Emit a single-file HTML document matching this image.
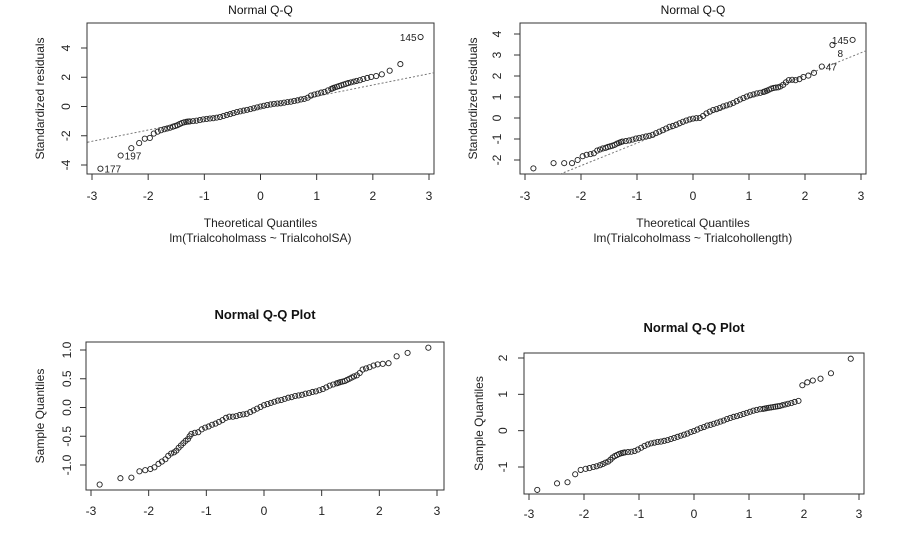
<!DOCTYPE html>
<html><head><meta charset="utf-8"><style>
body{margin:0;background:#fff;}
svg{display:block;font-family:"Liberation Sans",Arial,sans-serif;}
</style></head><body>
<svg id="chart" width="900" height="533" viewBox="0 0 900 533"></svg>
<script>
const theoretical=[-2.85,-2.49,-2.30,-2.16,-2.06,-1.97,-1.90,-1.83,-1.77,-1.71,-1.66,-1.61,-1.56,-1.52,-1.48,-1.44,-1.40,-1.36,-1.32,-1.29,
-1.26,-1.20,-1.14,-1.08,-1.02,-0.96,-0.90,-0.84,-0.78,-0.72,-0.66,-0.60,-0.54,-0.48,-0.42,-0.36,-0.30,-0.24,-0.18,-0.12,-0.06,0,0.06,0.12,0.18,0.24,0.30,0.36,0.42,0.48,0.54,0.60,0.66,0.72,0.78,0.84,0.90,0.96,1.02,1.08,1.14,1.20,1.26,
1.29,1.32,1.36,1.40,1.44,1.48,1.52,1.56,1.61,1.66,1.71,1.77,1.83,1.90,1.97,2.06,2.16,2.30,2.49,2.85];
const residSA=[-4.25,-3.35,-2.85,-2.5,-2.2,-2.15,-1.85,-1.72,-1.62,-1.55,-1.5,-1.45,-1.38,-1.33,-1.28,-1.2,-1.13,-1.08,-1.05,-1.03,
-1.02,-1.0,-0.97,-0.93,-0.88,-0.85,-0.82,-0.8,-0.76,-0.72,-0.65,-0.58,-0.52,-0.45,-0.38,-0.33,-0.28,-0.23,-0.18,-0.12,-0.06,0,0.05,0.1,0.14,0.18,0.2,0.22,0.26,0.3,0.33,0.38,0.42,0.48,0.52,0.6,0.75,0.82,0.88,0.95,1.0,1.1,1.2,
1.25,1.3,1.35,1.4,1.45,1.5,1.55,1.6,1.65,1.7,1.75,1.8,1.88,1.95,2.02,2.08,2.2,2.45,2.9,4.75];
const residLength=[-2.4,-2.15,-2.15,-2.15,-2.0,-1.82,-1.75,-1.72,-1.68,-1.55,-1.5,-1.45,-1.42,-1.38,-1.35,-1.32,-1.28,-1.22,-1.18,-1.15,
-1.12,-1.1,-1.07,-1.03,-0.98,-0.95,-0.92,-0.88,-0.85,-0.8,-0.72,-0.65,-0.58,-0.5,-0.42,-0.38,-0.32,-0.25,-0.18,-0.12,-0.07,-0.03,-0.01,0,0.1,0.22,0.3,0.38,0.42,0.48,0.55,0.6,0.65,0.72,0.8,0.88,0.95,1.02,1.08,1.12,1.17,1.2,1.24,
1.27,1.3,1.35,1.4,1.43,1.45,1.46,1.5,1.58,1.7,1.8,1.82,1.8,1.85,1.95,2.02,2.15,2.45,3.48,3.72];
const sample3=[-1.34,-1.23,-1.22,-1.11,-1.09,-1.07,-1.04,-0.98,-0.94,-0.9,-0.84,-0.8,-0.78,-0.75,-0.7,-0.66,-0.62,-0.58,-0.55,-0.5,
-0.46,-0.44,-0.43,-0.38,-0.35,-0.33,-0.3,-0.28,-0.25,-0.22,-0.18,-0.16,-0.16,-0.15,-0.13,-0.12,-0.11,-0.08,-0.05,-0.02,0.01,0.04,0.06,0.08,0.1,0.12,0.13,0.15,0.17,0.18,0.2,0.21,0.22,0.24,0.25,0.27,0.28,0.3,0.32,0.35,0.38,0.4,0.42,
0.43,0.44,0.45,0.46,0.48,0.5,0.52,0.54,0.56,0.6,0.66,0.68,0.7,0.73,0.75,0.76,0.77,0.89,0.95,1.04];
const sample4=[-1.63,-1.45,-1.42,-1.2,-1.08,-1.05,-1.03,-1.0,-0.98,-0.95,-0.92,-0.88,-0.85,-0.8,-0.74,-0.7,-0.67,-0.64,-0.62,-0.61,
-0.6,-0.59,-0.58,-0.56,-0.52,-0.47,-0.42,-0.38,-0.35,-0.33,-0.31,-0.3,-0.28,-0.26,-0.23,-0.2,-0.17,-0.14,-0.11,-0.08,-0.04,-0.01,0.03,0.07,0.1,0.14,0.16,0.19,0.22,0.25,0.28,0.32,0.35,0.38,0.4,0.43,0.46,0.49,0.52,0.55,0.57,0.59,0.6,
0.61,0.62,0.63,0.64,0.65,0.66,0.67,0.68,0.7,0.72,0.74,0.76,0.79,0.82,1.25,1.33,1.38,1.43,1.58,1.98];
const xTicks=[-3,-2,-1,0,1,2,3];
const yTicks1=[-4,-2,0,2,4];
const yTicks2=[-2,-1,0,1,2,3,4];
const yTicks3=[-1.0,-0.5,0.0,0.5,1.0];
const yTicks4=[-1,0,1,2];
const yTickLabels3=["-1.0","-0.5","0.0","0.5","1.0"];
const refLine1=[-0.07,0.77]; // intercept, slope
const refLine2=[-0.12,1.075];

const svg=document.getElementById('chart');
const NS='http://www.w3.org/2000/svg';
function mk(tag,attrs,parent){const e=document.createElementNS(NS,tag);for(const k in attrs)e.setAttribute(k,attrs[k]);(parent||svg).appendChild(e);return e;}

const panels=[
 {name:'residuals-sa',box:[87,23,434,174],xm:[-3,92,3,429],ym:[4,48,-4,165],ys:residSA,yt:yTicks1,ytl:null,
  title:'Normal Q-Q',bold:false,ty:14,xlab:200,ylabX:44,ytx:70,ytitle:'Standardized residuals',sub:['Theoretical Quantiles','lm(Trialcoholmass ~ TrialcoholSA)'],ref:refLine1,
  labels:[[0,'177','r'],[1,'197','r'],[82,'145','l']]},
 {name:'residuals-length',box:[520,23,866,174],xm:[-3,525,3,861],ym:[4,34,-2,160],ys:residLength,yt:yTicks2,ytl:null,
  title:'Normal Q-Q',bold:false,ty:14,xlab:200,ylabX:477,ytx:501,ytitle:'Standardized residuals',sub:['Theoretical Quantiles','lm(Trialcoholmass ~ Trialcohollength)'],ref:refLine2,
  labels:[[82,'145','l'],[81,'8','r8'],[80,'47','r']]},
 {name:'sample-qq-1',box:[86,342,444,490],xm:[-3,91,3,437],ym:[1,350,-1,465],ys:sample3,yt:yTicks3,ytl:yTickLabels3,
  title:'Normal Q-Q Plot',bold:true,ty:319,xlab:515,ylabX:44,ytx:71,ytitle:'Sample Quantiles',sub:null,ref:null,labels:[]},
 {name:'sample-qq-2',box:[524,353,864,494],xm:[-3,529,3,859],ym:[2,358,-1,467],ys:sample4,yt:yTicks4,ytl:null,
  title:'Normal Q-Q Plot',bold:true,ty:332,xlab:518,ylabX:483,ytx:507,ytitle:'Sample Quantiles',sub:null,ref:null,labels:[]}
];

panels.forEach(p=>{
 const g=mk('g',{});
 
 
 const sx=v=>p.xm[1]+(v-p.xm[0])*(p.xm[3]-p.xm[1])/(p.xm[2]-p.xm[0]);
 const sy=v=>p.ym[1]+(v-p.ym[0])*(p.ym[3]-p.ym[1])/(p.ym[2]-p.ym[0]);
 const [x0,y0,x1,y1]=p.box;
 const cx=(x0+x1)/2;
 const t=mk('text',{x:cx,y:p.ty,'text-anchor':'middle','font-size':p.bold?13:12,'font-weight':p.bold?'bold':'normal',fill:'#111'},g);
 t.textContent=p.title;
 
 
 const box=mk('rect',{x:x0,y:y0,width:x1-x0,height:y1-y0,fill:'none',stroke:'#333','stroke-width':1},g);
 
 
 const xa=mk('g',{},g);
 
 
 const ay=y1;
 xTicks.forEach(v=>{
  mk('line',{x1:sx(v),x2:sx(v),y1:ay,y2:ay+6,stroke:'#333'},xa);
  const tx=mk('text',{x:sx(v),y:p.xlab,'text-anchor':'middle','font-size':12,fill:'#222'},xa);
  tx.textContent=v;
  
  
 });
 const ya=mk('g',{},g);
 
 
 const ax=x0;
 p.yt.forEach((v,i)=>{
  mk('line',{x1:ax-6,x2:ax,y1:sy(v),y2:sy(v),stroke:'#333'},ya);
  const ty=mk('text',{x:p.ytx,y:sy(v),'text-anchor':'middle','font-size':12,fill:'#222',transform:`rotate(-90 ${p.ytx} ${sy(v)})`},ya);
  ty.textContent=p.ytl?p.ytl[i]:String(v);
  
  
 });
 const yt=mk('text',{x:p.ylabX,y:(y0+y1)/2,'text-anchor':'middle','font-size':12,fill:'#222',transform:`rotate(-90 ${p.ylabX} ${(y0+y1)/2})`},g);
 yt.textContent=p.ytitle;
 
 
 if(p.sub){
  p.sub.forEach((s,i)=>{
   const st=mk('text',{x:cx,y:227+i*15,'text-anchor':'middle','font-size':12,fill:'#222'},g);
   st.textContent=s;
   
   
  });
 }
 const cid='clip-'+p.name;
 const cp=mk('clipPath',{id:cid},g);
 mk('rect',{x:x0,y:y0,width:x1-x0,height:y1-y0},cp);
 if(p.ref){
  const xa0=p.xm[0]-0.5, xa1=p.xm[2]+0.5;
  const rl=mk('line',{x1:sx(xa0),y1:sy(p.ref[0]+p.ref[1]*xa0),x2:sx(xa1),y2:sy(p.ref[0]+p.ref[1]*xa1),stroke:'#777','stroke-dasharray':'2,2','clip-path':`url(#${cid})`},g);
  
  
 }
 const pts=mk('g',{},g);
 
 
 theoretical.forEach((xv,i)=>{
  const c=mk('circle',{cx:sx(xv),cy:sy(p.ys[i]),r:2.6,fill:'none',stroke:'#222','stroke-width':0.9},pts);
  
  
 });
 p.labels.forEach(([i,txt,side])=>{
  const px=sx(theoretical[i]), py=sy(p.ys[i]);
  let a={x:px+4,y:py+4,'text-anchor':'start'};
  if(side==='l') a={x:px-4,y:py+4,'text-anchor':'end'};
  if(side==='r8') a={x:px+5,y:py+12,'text-anchor':'start'};
  const lt=mk('text',Object.assign(a,{'font-size':10,fill:'#222'}),g);
  lt.textContent=txt;
  
  
 });
});
</script>
</body></html>
